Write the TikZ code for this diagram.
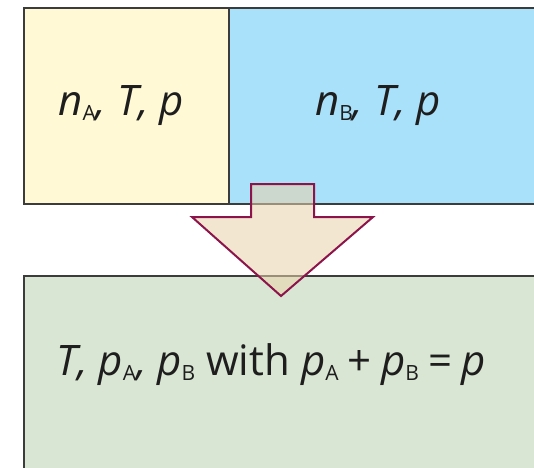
\documentclass[tikz,border=0pt]{standalone}
\usepackage{fontspec}
\setmainfont{Open Sans}
\definecolor{boxA}{RGB}{255,249,213}
\definecolor{boxB}{RGB}{169,224,250}
\definecolor{boxC}{RGB}{218,230,212}
\definecolor{edge}{RGB}{60,60,60}
\definecolor{arrfill}{RGB}{234,210,170}
\definecolor{arrline}{RGB}{140,20,75}
\definecolor{ink}{RGB}{30,30,30}
\newcommand{\myvi}[1]{\textit{#1}}
\newcommand{\mysb}[1]{\raisebox{-0.14em}{\fontsize{21}{21}\selectfont #1}}
\newcommand{\opgap}{\hspace{0.22em}}
\begin{document}
\begin{tikzpicture}[x=1pt,y=-1pt,
  cell/.style={draw=edge,line width=1.4pt},
  lbl/.style={font=\fontsize{42}{48}\selectfont,text=ink,inner sep=0pt,anchor=base},
  bigarrow/.style={draw=arrline,line width=2pt,fill=arrfill,fill opacity=0.55,line join=miter}]
\useasboundingbox (0,0) rectangle (534,467);
\fill[boxA] (24,8) rectangle (229,204);
\fill[boxB] (229,8) rectangle (540,204);
\draw[cell] (540,8) -- (24,8) -- (24,204) -- (540,204);
\draw[cell] (229,8) -- (229,204);
\fill[boxC] (24,276) rectangle (540,480);
\draw[cell] (540,276) -- (24,276) -- (24,480);
\node[lbl] (ta) at (121,115) {\myvi{n}\mysb{A}\myvi{, T, p}};
\node[lbl] (tb) at (378,115) {\myvi{n}\mysb{B}\myvi{, T, p}};
\node[lbl] (tc) at (271,375) {\myvi{T, p}\mysb{A}\myvi{, p}\mysb{B} with \myvi{p}\mysb{A}\opgap+\opgap\myvi{p}\mysb{B}\opgap=\opgap\myvi{p}};
\path[bigarrow] (251,184) -- (314,184) -- (314,217) -- (373,217) -- (281,296) -- (192,217) -- (251,217) -- cycle;
\end{tikzpicture}
\end{document}
